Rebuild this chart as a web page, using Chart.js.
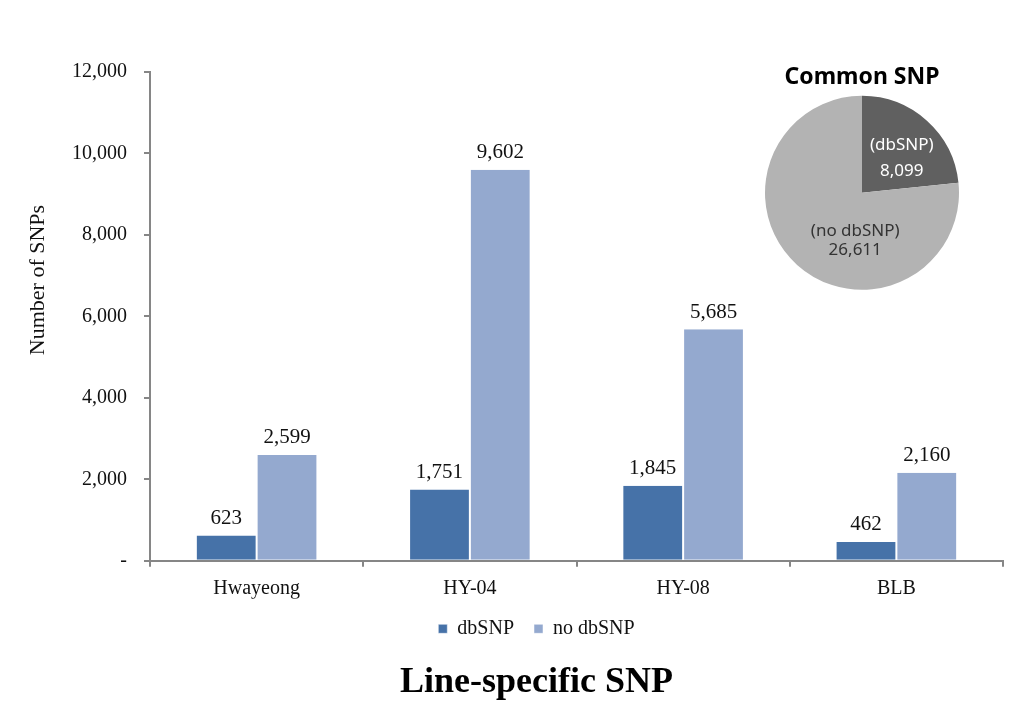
<!DOCTYPE html>
<html>
<head>
<meta charset="utf-8">
<script src="https://cdn.jsdelivr.net/npm/chart.js@4.4.1/dist/chart.umd.min.js"></script>
<style>
  html, body { margin: 0; padding: 0; background: #fff; }
  #wrap { position: relative; width: 1035px; height: 708px; }
  #barBox { position: absolute; left: 0; top: 0; width: 1035px; height: 708px; }
  #pieBox { position: absolute; left: 757px; top: 58px; width: 210px; height: 240px; }
</style>
</head>
<body>
<div id="wrap">
  <div id="barBox"><canvas id="barChart"></canvas></div>
  <div id="pieBox"><canvas id="pieChart"></canvas></div>
</div>
<script>
// --- data ---
const lines = ['Hwayeong', 'HY-04', 'HY-08', 'BLB'];
const dbSnp = [623, 1751, 1845, 462];
const noDbSnp = [2599, 9602, 5685, 2160];
const yTicks = [0, 2000, 4000, 6000, 8000, 10000, 12000];

const commonLabels = ['(dbSNP)', '(no dbSNP)'];
const commonValues = [8099, 26611];

const serif = '"Liberation Serif", "Times New Roman", serif';
const sans = '"Noto Sans", "DejaVu Sans", sans-serif';

function fmt(n) {
    return n.toLocaleString('en-US');
}

// value above every bar
const barLabels = {
    id: 'barLabels',
    afterDatasetsDraw(chart) {
        const ctx = chart.ctx;
        ctx.save();
        ctx.font = '21px ' + serif;
        ctx.fillStyle = '#111';
        ctx.textAlign = 'center';
        ctx.textBaseline = 'middle';
        chart.data.datasets.forEach((ds, i) => {
            chart.getDatasetMeta(i).data.forEach((bar, j) => {
                ctx.fillText(fmt(ds.data[j]), bar.x, bar.y - 17);
            });
        });
        ctx.restore();
    }
};

// y axis title sits further left than the axis box
const yTitle = {
    id: 'yTitle',
    afterDraw(chart) {
        const ctx = chart.ctx;
        ctx.save();
        ctx.translate(38, 280);
        ctx.rotate(-Math.PI / 2);
        ctx.font = '22px ' + serif;
        ctx.fillStyle = '#111';
        ctx.textAlign = 'center';
        ctx.textBaseline = 'middle';
        ctx.fillText('Number of SNPs', 0, 0);
        ctx.restore();
    }
};

new Chart(document.getElementById('barChart'), {
    type: 'bar',
    data: {
        labels: lines,
        datasets: [
            { label: 'dbSNP', data: dbSnp, backgroundColor: '#4672A8', borderColor: '#fff', borderWidth: { left: 1, right: 1, top: 0, bottom: 0 } },
            { label: 'no dbSNP', data: noDbSnp, backgroundColor: '#94A9CF', borderColor: '#fff', borderWidth: { left: 1, right: 1, top: 0, bottom: 0 } }
        ]
    },
    options: {
        responsive: true,
        maintainAspectRatio: false,
        animation: false,
        layout: { padding: { left: 70, right: 32, top: 72, bottom: 0 } },
        datasets: { bar: { categoryPercentage: 0.57, barPercentage: 1.0 } },
        scales: {
            x: {
                grid: { display: true, drawOnChartArea: false, offset: true, color: '#868686', lineWidth: 2, tickLength: 6 },
                border: { display: true, color: '#868686', width: 2 },
                ticks: { color: '#111', font: { family: serif, size: 20 }, padding: 10 },
                afterFit(s) { s.height = 38; }
            },
            y: {
                min: 0, max: 12000,
                afterBuildTicks(s) { s.ticks = yTicks.map(v => ({ value: v })); },
                grid: { display: true, drawOnChartArea: false, color: '#868686', lineWidth: 2, tickLength: 6 },
                border: { display: true, color: '#868686', width: 2 },
                ticks: {
                    color: '#111',
                    font: { family: serif, size: 20 },
                    padding: 17,
                    callback: v => v === 0 ? '-' : fmt(v)
                },
                afterFit(s) { s.width = 80; }
            }
        },
        plugins: {
            legend: {
                position: 'bottom',
                labels: { boxWidth: 9, boxHeight: 9, color: '#111', font: { family: serif, size: 20 }, padding: 20 }
            },
            title: {
                display: true,
                position: 'bottom',
                text: 'Line-specific SNP',
                color: '#000',
                font: { family: serif, size: 36, weight: 'bold' },
                padding: { top: 12, bottom: 4 }
            },
            tooltip: { enabled: false }
        }
    },
    plugins: [barLabels, yTitle]
});

// labels inside the pie slices: anchor as a share of the radius, and line gap
const sliceSpots = [[0.41, -0.36, 13], [-0.07, 0.49, 9.5]];
const sliceLabels = {
    id: 'sliceLabels',
    afterDatasetsDraw(chart) {
        const ctx = chart.ctx;
        const colors = ['#fff', '#333'];
        ctx.save();
        ctx.font = '17px ' + sans;
        ctx.textAlign = 'center';
        ctx.textBaseline = 'middle';
        chart.getDatasetMeta(0).data.forEach((arc, i) => {
            const [fx, fy, gap] = sliceSpots[i];
            const x = arc.x + arc.outerRadius * fx;
            const y = arc.y + arc.outerRadius * fy;
            ctx.fillStyle = colors[i];
            ctx.fillText(chart.data.labels[i], x, y - gap);
            ctx.fillText(fmt(chart.data.datasets[0].data[i]), x, y + gap);
        });
        ctx.restore();
    }
};

new Chart(document.getElementById('pieChart'), {
    type: 'pie',
    data: {
        labels: commonLabels,
        datasets: [{ data: commonValues, backgroundColor: ['#606060', '#B3B3B3'], borderWidth: 0 }]
    },
    options: {
        responsive: true,
        maintainAspectRatio: false,
        animation: false,
        layout: { padding: { left: 8, right: 8, top: 0, bottom: 8 } },
        plugins: {
            legend: { display: false },
            tooltip: { enabled: false },
            title: {
                display: true,
                text: 'Common SNP',
                color: '#000',
                font: { family: sans, size: 23, weight: 'bold' },
                padding: { top: 6, bottom: 4 }
            }
        }
    },
    plugins: [sliceLabels]
});
</script>
</body>
</html>
